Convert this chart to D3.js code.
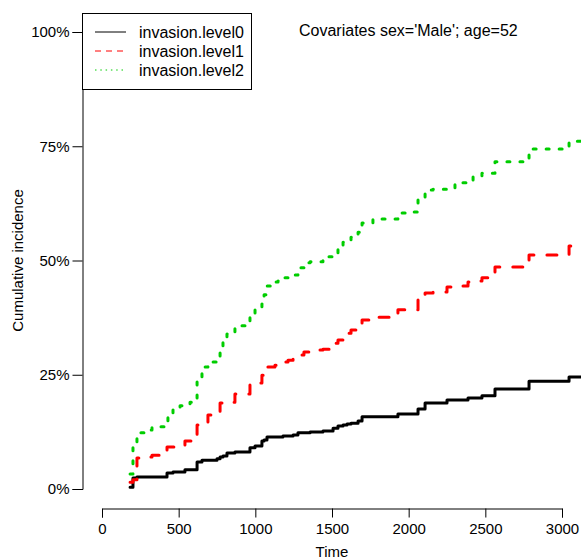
<!DOCTYPE html>
<html>
<head>
<meta charset="utf-8">
<script src="https://cdn.jsdelivr.net/npm/d3@7"></script>
<style>
  body { margin: 0; background: #fff; }
  svg { display: block; font-family: "Liberation Sans", Arial, sans-serif; }
  .tickLabel { font-size: 15px; fill: #000; }
</style>
</head>
<body>
<svg id="cif"></svg>
<script>
// event times (days) shared by the three curves
const times = [183, 202, 228, 280, 326, 424, 430, 463, 509, 541, 574, 620, 652, 691, 750, 770,
    789, 815, 867, 965, 998, 1043, 1057, 1076, 1128, 1148, 1180, 1213, 1246, 1278, 1317, 1357,
    1441, 1507, 1539, 1572, 1598, 1624, 1670, 1696, 1767, 1930, 1996, 2061, 2107, 2159, 2250,
    2302, 2387, 2420, 2478, 2563, 2785, 3046];
const lastTime = 3200;

const level0 = [0.004, 0.024, 0.026, 0.026, 0.026, 0.035, 0.035, 0.037, 0.037, 0.042, 0.042,
    0.059, 0.063, 0.063, 0.066, 0.070, 0.072, 0.079, 0.081, 0.090, 0.094, 0.105, 0.107, 0.114,
    0.114, 0.114, 0.116, 0.116, 0.118, 0.123, 0.123, 0.125, 0.127, 0.133, 0.138, 0.140, 0.142,
    0.144, 0.149, 0.158, 0.158, 0.164, 0.164, 0.175, 0.188, 0.188, 0.195, 0.195, 0.199, 0.199,
    0.204, 0.219, 0.236, 0.245];
const level1 = [0.015, 0.020, 0.068, 0.070, 0.074, 0.092, 0.092, 0.092, 0.092, 0.105, 0.105,
    0.140, 0.144, 0.162, 0.162, 0.188, 0.190, 0.190, 0.208, 0.228, 0.232, 0.249, 0.256, 0.267,
    0.271, 0.276, 0.278, 0.282, 0.293, 0.293, 0.300, 0.304, 0.306, 0.319, 0.326, 0.335, 0.341,
    0.348, 0.363, 0.370, 0.376, 0.392, 0.392, 0.425, 0.429, 0.431, 0.442, 0.444, 0.453, 0.455,
    0.462, 0.486, 0.512, 0.532];
const level2 = [0.033, 0.101, 0.123, 0.129, 0.136, 0.140, 0.166, 0.173, 0.182, 0.186, 0.190,
    0.243, 0.267, 0.278, 0.291, 0.309, 0.330, 0.339, 0.357, 0.376, 0.394, 0.405, 0.425, 0.444,
    0.453, 0.455, 0.462, 0.464, 0.468, 0.484, 0.495, 0.497, 0.508, 0.512, 0.525, 0.540, 0.545,
    0.551, 0.562, 0.582, 0.591, 0.604, 0.606, 0.639, 0.654, 0.656, 0.659, 0.670, 0.670, 0.683,
    0.691, 0.716, 0.744, 0.761];

const seriesNames = ['invasion.level0', 'invasion.level1', 'invasion.level2'];
const seriesColors = ['#000000', '#ff0000', '#00cd00'];
const xTicks = [0, 500, 1000, 1500, 2000, 2500, 3000];
const yTicks = [0, 0.25, 0.5, 0.75, 1];
const subtitle = "Covariates sex='Male'; age=52";

class CifPlot {
    constructor(svgID) {
        this.svg = d3.select('#' + svgID).attr('width', 581).attr('height', 560);
        this.x = d3.scaleLinear().domain([0, 3000]).range([102, 562]);
        this.y = d3.scaleLinear().domain([0, 1]).range([489, 32]);
        // line styles like R lty 1,2,3 at lwd 3
        this.dashes = [null, '10,13', '3,10'];
        this.legendDashes = [null, '6,5', '1.5,3.8'];

        this.drawAxes();
        this.drawCurves();
        this.drawLegend();
        this.drawTitle();
    }

    drawAxes() {
        let xAxis = this.svg.append('g')
            .attr('transform', 'translate(0,508.5)')
            .call(d3.axisBottom(this.x).tickValues(xTicks).tickSize(9).tickPadding(6).tickFormat(d3.format('d')));
        xAxis.select('.domain').attr('stroke', '#000');
        xAxis.selectAll('text').attr('class', 'tickLabel').attr('font-size', null).attr('font-family', null);

        let yAxis = this.svg.append('g')
            .attr('transform', 'translate(82.5,0)')
            .call(d3.axisLeft(this.y).tickValues(yTicks).tickSize(10).tickPadding(3).tickFormat(d3.format('.0%')));
        yAxis.selectAll('text').attr('class', 'tickLabel').attr('font-size', null).attr('font-family', null);

        this.svg.append('text')
            .attr('x', this.x(1500))
            .attr('y', 557)
            .attr('text-anchor', 'middle')
            .attr('font-size', 15)
            .text('Time');

        this.svg.append('text')
            .attr('transform', 'translate(23,' + this.y(0.5) + ') rotate(-90)')
            .attr('text-anchor', 'middle')
            .attr('font-size', 15)
            .text('Cumulative incidence');
    }

    drawCurves() {
        let allValues = [level0, level1, level2];
        let line = d3.line()
            .x(d => this.x(d[0]))
            .y(d => this.y(d[1]))
            .curve(d3.curveStepAfter);
        allValues.forEach((vals, i) => {
            let pts = times.map((t, j) => [t, vals[j]]);
            pts.push([lastTime, vals[vals.length - 1]]);
            this.svg.append('path')
                .datum(pts)
                .attr('fill', 'none')
                .attr('stroke', seriesColors[i])
                .attr('stroke-width', 3)
                .attr('stroke-linecap', 'round')
                .attr('stroke-linejoin', 'round')
                .attr('stroke-dasharray', this.dashes[i])
                .attr('d', line);
        });
    }

    drawLegend() {
        let g = this.svg.append('g').attr('class', 'legend');
        g.append('rect')
            .attr('x', 82.5).attr('y', 13.5)
            .attr('width', 169).attr('height', 76)
            .attr('fill', '#fff')
            .attr('stroke', '#000');
        let rows = g.selectAll('.row')
            .data(seriesNames)
            .enter()
            .append('g')
            .attr('class', 'row')
            .attr('transform', (d, i) => 'translate(0,' + (32 + i * 19) + ')');
        rows.append('line')
            .attr('x1', 95).attr('x2', 126)
            .attr('stroke', (d, i) => seriesColors[i])
            .attr('stroke-width', 1)
            .attr('stroke-dasharray', (d, i) => this.legendDashes[i]);
        rows.append('text')
            .attr('x', 139)
            .attr('y', 5.5)
            .attr('font-size', 16)
            .text(d => d);
    }

    drawTitle() {
        this.svg.append('text')
            .attr('x', 299)
            .attr('y', 35.5)
            .attr('font-size', 16)
            .text(subtitle);
    }
}

new CifPlot('cif');
</script>
</body>
</html>
